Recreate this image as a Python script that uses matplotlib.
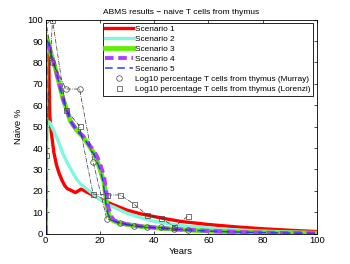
import numpy as np
import matplotlib
matplotlib.use("Agg")
import matplotlib.pyplot as plt

# scenario curves (years, naive %)
s1_x = [0, 0.3, 0.8, 1.2, 1.5, 2, 3, 4, 5, 6, 7, 8, 9, 10, 11, 12, 13, 14, 15, 17, 20, 23, 25, 30, 35, 40, 45, 50, 60, 70, 80, 90, 100]
s1_y = [0, 55, 88, 75, 55, 48, 38, 32, 28, 25, 22.5, 21, 20.5, 19.8, 19.2, 20, 20.8, 20.3, 19.5, 18.3, 16.3, 14.5, 13.5, 11, 9.3, 8, 6.8, 5.7, 4.3, 3.2, 2.3, 1.6, 1.0]

s2_x = [0, 0.2, 0.5, 1.5, 3, 5, 6.5, 8, 10, 11.4, 13, 15, 17, 18, 20, 23, 25, 30, 35, 40, 45, 50, 60, 70, 80, 90, 100]
s2_y = [0, 40, 52.5, 52, 48, 42, 37, 33, 28.5, 25.5, 23, 21, 19, 18, 16, 13.5, 12.5, 9.5, 7.5, 5.8, 4.7, 3.8, 2.6, 1.8, 1.2, 0.8, 0.5]

s3_x = [0, 0.1, 0.6, 1, 2, 3.4, 5, 6.5, 8, 9, 10, 11.4, 13.9, 15.5, 17.6, 19, 20.3, 21.5, 22.1, 22.7, 23.3, 24, 25, 27, 30, 35, 40, 45, 50, 60, 70, 80, 90, 100]
s3_y = [0, 92, 91, 89, 84, 78, 70, 62.5, 57, 53, 51, 48.5, 45, 42, 38, 34, 29, 24, 18, 12, 9, 7, 6, 5, 4.3, 3.4, 2.8, 2.3, 1.9, 1.2, 0.8, 0.5, 0.3, 0.2]

s4_x = [0, 0.1, 0.6, 1, 2, 3.4, 5, 6.5, 8, 9, 10, 11.4, 13.9, 15.5, 17.6, 19, 20.5, 21.5, 22.3, 23, 23.8, 25, 27, 30, 35, 40, 45, 50, 60, 70, 80, 90, 100]
s4_y = [0, 90, 90, 89, 84, 78, 70, 62.5, 57, 53, 51, 48.5, 45.5, 42.5, 39, 36, 31, 27, 20, 13, 9, 6.5, 5.2, 4.4, 3.5, 2.9, 2.4, 2.0, 1.3, 0.8, 0.5, 0.3, 0.2]

s5_x = [0, 0.1, 0.6, 1, 2, 3.4, 5, 6.5, 8, 9, 10, 11.4, 13.9, 15.5, 17.6, 19, 20.3, 21.2, 21.8, 22.4, 23, 24, 25, 27, 30, 35, 40, 45, 50, 60, 70, 80, 90, 100]
s5_y = [0, 91, 90, 89, 84, 78, 70, 62.5, 57, 53, 51, 48.5, 45, 42, 37.5, 33.5, 29, 24, 18, 12, 9, 7, 6, 5, 4.3, 3.4, 2.8, 2.3, 1.9, 1.2, 0.8, 0.5, 0.3, 0.2]

# observed data
murray_x = [0, 2.5, 7.5, 12.5, 17.5, 22.5, 27.5, 32.5, 37.5, 42.5, 47.5, 52.5]
murray_y = [100, 80, 67.6, 67.6, 33.6, 7, 5, 3.6, 2.9, 2.9, 2.2, 1.5]
lorenzi_x = [0, 2.5, 7.5, 12.5, 17.5, 22.5, 27.5, 32.5, 37.5, 42.5, 47.5, 52.5]
lorenzi_y = [37, 100, 57.8, 50.3, 18.5, 18.1, 18.1, 13.9, 8.6, 7.2, 3.3, 8.3]

plt.rcParams['font.family'] = ['Liberation Sans', 'DejaVu Sans']
fs = 5.95

fig = plt.figure(figsize=(3.5, 2.64), dpi=100)
ax = fig.add_axes([0.1306, 0.1148, 0.905 - 0.1306, 0.9254 - 0.1148])

ax.plot(s1_x, s1_y, color='#ff0000', lw=2.4, label='Scenario 1')
ax.plot(s2_x, s2_y, color='#7ff7dc', lw=2.4, label='Scenario 2')
ax.plot(s3_x, s3_y, color='#5ef000', lw=3.4, label='Scenario 3')
ax.plot(s4_x, s4_y, color='#b040f8', lw=2.8, ls=(0, (2.2, 1.2)), label='Scenario 4')
ax.plot(s5_x, s5_y, color='#2f3cf5', lw=1.1, ls=(0, (5, 3)), label='Scenario 5')

ax.plot(murray_x, murray_y, color='#303030', lw=0.5, ls='-.')
ax.plot(lorenzi_x, lorenzi_y, color='#303030', lw=0.5, ls='-.')
ax.plot(murray_x, murray_y, ls='none', marker='o', ms=4, mfc='none', mec='#404040', mew=0.5,
        label='Log10 percentage T cells from thymus (Murray)')
ax.plot(lorenzi_x, lorenzi_y, ls='none', marker='s', ms=3.6, mfc='none', mec='#404040', mew=0.5,
        label='Log10 percentage T cells from thymus (Lorenzi)')

ax.set_xlim(0, 100)
ax.set_ylim(0, 100)
ax.set_xticks(np.arange(0, 101, 20))
ax.set_yticks(np.arange(0, 101, 10))
ax.tick_params(direction='in', length=2.5, width=0.5, labelsize=6.8, top=True, right=True, pad=2)
for sp in ax.spines.values():
    sp.set_linewidth(0.6)

ax.set_title('ABMS results \u2212 naive T cells from thymus', fontsize=6.0, pad=4)
ax.set_xlabel('Years', fontsize=6.8, labelpad=1)
ax.set_ylabel('Naive %', fontsize=6.8, labelpad=3)

leg = ax.legend(loc='upper right', fontsize=fs, frameon=True, fancybox=False, framealpha=1,
                edgecolor='black', handlelength=3.4, handletextpad=0.25, labelspacing=0.27,
                borderpad=0.3, borderaxespad=0.4)
leg.get_frame().set_linewidth(0.6)

fig.savefig('out.png', dpi=100)
